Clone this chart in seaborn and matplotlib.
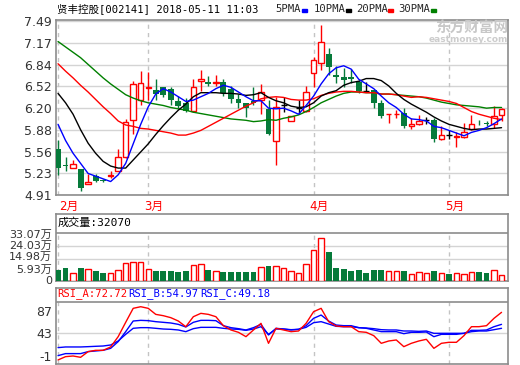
import numpy as np
import matplotlib
matplotlib.use("Agg")
import matplotlib.pyplot as plt
from matplotlib.patches import Rectangle
from matplotlib import transforms
import seaborn as sns

# ---- data: 60 sessions, 2018-02-06 .. 2018-05-11 ----
opens = [5.59, 5.35, 5.31, 5.30, 5.07, 5.19, 5.14, 5.19, 5.27, 5.47,
         6.02, 6.32, 6.50, 6.47, 6.51, 6.49, 6.30, 6.27, 6.16, 6.61,
         6.59, 6.57, 6.59, 6.48, 6.34, 6.28, 6.31, 6.32, 6.19, 5.71,
         6.25, 6.01, 6.21, 6.16, 6.72, 6.87, 7.01, 6.69, 6.66, 6.66,
         6.59, 6.45, 6.47, 6.27, 6.11, 6.11, 6.13, 5.93, 5.97, 6.02,
         6.03, 5.74, 5.80, 5.77, 5.77, 5.89, 6.00, 5.98, 5.96, 6.10]
highs = [5.72, 5.48, 5.43, 5.30, 5.22, 5.22, 5.15, 5.26, 5.60, 6.04,
         6.61, 6.75, 6.74, 6.64, 6.52, 6.52, 6.38, 6.35, 6.64, 6.76,
         6.68, 6.70, 6.63, 6.53, 6.41, 6.28, 6.52, 6.56, 6.32, 6.37,
         6.37, 6.09, 6.32, 6.53, 6.96, 7.44, 7.10, 6.82, 6.80, 6.78,
         6.62, 6.59, 6.47, 6.32, 6.12, 6.18, 6.20, 6.05, 6.10, 6.07,
         6.05, 5.94, 5.87, 5.85, 5.98, 6.10, 6.03, 6.01, 6.23, 6.21]
lows = [5.21, 5.26, 5.31, 4.97, 5.07, 5.11, 5.11, 5.16, 5.26, 5.46,
        5.82, 6.25, 6.32, 6.32, 6.36, 6.25, 6.20, 6.15, 6.15, 6.46,
        6.53, 6.53, 6.38, 6.28, 6.20, 6.07, 6.25, 6.12, 5.80, 5.35,
        6.15, 6.01, 6.12, 6.15, 6.52, 6.77, 6.69, 6.58, 6.52, 6.57,
        6.42, 6.45, 6.21, 6.06, 5.98, 6.05, 5.90, 5.89, 5.95, 5.97,
        5.70, 5.73, 5.74, 5.63, 5.75, 5.88, 5.95, 5.93, 5.90, 6.01]
closes = [5.31, 5.34, 5.37, 5.01, 5.11, 5.12, 5.12, 5.21, 5.47, 5.99,
          6.56, 6.58, 6.51, 6.41, 6.39, 6.32, 6.23, 6.16, 6.51, 6.63,
          6.56, 6.59, 6.43, 6.34, 6.28, 6.21, 6.28, 6.44, 5.81, 6.21,
          6.25, 6.09, 6.21, 6.44, 6.91, 7.18, 6.81, 6.66, 6.62, 6.63,
          6.45, 6.45, 6.28, 6.08, 6.12, 6.12, 5.93, 5.96, 6.01, 6.02,
          5.74, 5.80, 5.80, 5.79, 5.84, 5.96, 5.99, 5.97, 6.08, 6.19]

ma5 = [5.96, 5.72, 5.53, 5.38, 5.23, 5.19, 5.15, 5.11, 5.21, 5.38,
       5.67, 5.96, 6.22, 6.41, 6.49, 6.44, 6.37, 6.30, 6.32, 6.37,
       6.42, 6.49, 6.54, 6.51, 6.44, 6.37, 6.31, 6.31, 6.20, 6.19,
       6.20, 6.16, 6.11, 6.24, 6.38, 6.56, 6.71, 6.80, 6.83, 6.78,
       6.63, 6.56, 6.49, 6.38, 6.28, 6.21, 6.11, 6.04, 6.03, 6.01,
       5.93, 5.91, 5.87, 5.83, 5.79, 5.84, 5.87, 5.91, 5.97, 6.04]
ma10 = [6.42, 6.28, 6.11, 5.88, 5.68, 5.53, 5.41, 5.34, 5.31, 5.31,
        5.43, 5.55, 5.67, 5.81, 5.94, 6.06, 6.17, 6.26, 6.37, 6.43,
        6.43, 6.43, 6.42, 6.42, 6.41, 6.39, 6.40, 6.43, 6.36, 6.31,
        6.28, 6.23, 6.21, 6.22, 6.28, 6.38, 6.43, 6.46, 6.54, 6.58,
        6.60, 6.64, 6.64, 6.61, 6.53, 6.42, 6.33, 6.26, 6.20, 6.14,
        6.07, 6.01, 5.96, 5.93, 5.90, 5.88, 5.89, 5.89, 5.90, 5.91]
ma20 = [6.86, 6.75, 6.65, 6.54, 6.44, 6.33, 6.22, 6.12, 6.01, 5.95,
        5.93, 5.90, 5.89, 5.87, 5.85, 5.83, 5.80, 5.80, 5.83, 5.87,
        5.93, 5.99, 6.05, 6.11, 6.17, 6.23, 6.28, 6.34, 6.36, 6.37,
        6.36, 6.33, 6.32, 6.32, 6.34, 6.39, 6.42, 6.44, 6.45, 6.45,
        6.44, 6.43, 6.43, 6.41, 6.41, 6.40, 6.38, 6.36, 6.37, 6.36,
        6.34, 6.32, 6.30, 6.27, 6.21, 6.15, 6.11, 6.08, 6.05, 6.03]
ma30 = [7.19, 7.11, 7.03, 6.95, 6.85, 6.75, 6.65, 6.56, 6.48, 6.40,
        6.35, 6.31, 6.28, 6.26, 6.24, 6.21, 6.19, 6.17, 6.14, 6.12,
        6.10, 6.08, 6.06, 6.04, 6.03, 6.02, 6.00, 6.01, 6.03, 6.02,
        6.05, 6.07, 6.10, 6.15, 6.21, 6.28, 6.33, 6.38, 6.42, 6.44,
        6.44, 6.43, 6.43, 6.41, 6.41, 6.40, 6.39, 6.38, 6.37, 6.35,
        6.32, 6.29, 6.27, 6.25, 6.24, 6.23, 6.22, 6.20, 6.21, 6.21]

# volume in 万
volume = [7.66, 8.59, 5.57, 8.59, 8.12, 6.96, 5.11, 5.57, 7.66, 12.5,
          13.2, 13.2, 8.12, 6.96, 6.96, 6.96, 5.80, 6.96, 10.9, 11.6,
          7.66, 6.96, 6.27, 6.27, 5.80, 6.27, 6.27, 9.75, 10.4, 10.4,
          8.82, 6.96, 5.57, 11.6, 21.4, 29.7, 20.2, 9.05, 8.12, 6.96,
          7.66, 5.57, 7.66, 7.66, 6.96, 6.96, 6.96, 4.64, 6.03, 5.57,
          6.96, 5.57, 4.87, 5.57, 4.87, 6.03, 5.80, 5.11, 7.43, 4.18]

rsi_a = [-9.5, -3.0, -1.7, -4.3, 6.9, 9.5, 9.5, 16.1, 36.4, 64.7,
         92.3, 95.5, 92.3, 80.4, 77.8, 73.9, 67.3, 56.1, 75.8, 82.4,
         80.4, 75.8, 58.1, 49.6, 45.0, 36.4, 49.6, 62.7, 23.3, 52.9,
         49.6, 46.3, 47.6, 62.7, 85.7, 92.3, 66.0, 57.4, 56.1, 56.1,
         46.3, 45.0, 38.4, 23.3, 27.9, 29.9, 16.7, 23.3, 27.9, 31.2,
         13.4, 23.3, 25.3, 25.3, 38.4, 56.1, 56.1, 58.1, 72.6, 84.4]
rsi_b = [-1.0, 3.0, 3.0, 3.0, 6.9, 8.2, 9.5, 13.4, 26.6, 46.3,
         67.3, 68.6, 68.0, 66.0, 64.7, 63.4, 60.7, 55.5, 64.7, 68.6,
         68.6, 68.0, 58.1, 54.2, 52.2, 49.6, 54.2, 60.7, 39.7, 52.9,
         51.5, 49.6, 50.9, 58.1, 72.6, 79.1, 67.3, 59.4, 58.1, 58.1,
         54.2, 52.9, 49.6, 46.3, 46.3, 46.3, 42.3, 45.0, 45.0, 45.6,
         36.4, 41.0, 41.0, 41.0, 43.0, 48.9, 48.9, 49.6, 56.1, 60.7]
rsi_c = [14.8, 16.1, 16.1, 16.1, 16.7, 17.4, 18.0, 20.0, 27.9, 41.0,
         52.9, 54.2, 54.2, 52.9, 51.5, 50.9, 49.6, 46.3, 52.2, 54.8,
         54.8, 54.8, 52.9, 51.5, 50.9, 48.9, 51.5, 56.1, 41.0, 51.5,
         51.5, 50.2, 50.9, 54.8, 64.0, 66.0, 61.4, 56.8, 56.1, 56.1,
         54.2, 53.5, 52.2, 50.2, 49.6, 49.6, 47.6, 47.6, 46.9, 47.6,
         43.0, 43.0, 43.0, 43.0, 43.0, 46.3, 47.6, 47.6, 50.2, 52.9]

price_labels = ["4.91", "5.23", "5.56", "5.88", "6.20", "6.52", "6.84", "7.17", "7.49"]
vol_ticks = [0, 5.93, 14.98, 24.03, 33.07]
vol_labels = ["0", "5.93万", "14.98万", "24.03万", "33.07万"]
rsi_ticks = [-1, 43, 87]
month_start = [0, 12, 34, 52]
month_names = ["2月", "3月", "4月", "5月"]

RED = "#ff0000"
GREEN = "#067a3a"
GRID = "#d4d4d4"
EDGE = "#8c8c8c"

sns.set_theme(style="white")
plt.rcParams["font.family"] = ["DejaVu Sans", "Noto Sans CJK SC"]
MONO = ["DejaVu Sans Mono", "Noto Sans CJK SC"]

W, H = 520, 365
fig = plt.figure(figsize=(W / 100, H / 100), dpi=100)


def panel(top, bottom):
    return fig.add_axes([56 / W, 1 - bottom / H, (508.3 - 56) / W, (bottom - top) / H])


def fx(x):
    return x / W


def fy(y):
    return 1 - y / H


o = np.array(opens)
h = np.array(highs)
l = np.array(lows)
c = np.array(closes)
x = np.arange(len(c))
up = c > o
down = c < o
flat = c == o
prev = np.r_[c[0], c[:-1]]
vol_up = up | (flat & (c > prev))

ax = panel(20, 195)
axv = panel(214.3, 280.7)
axr = panel(287.7, 364)

for a in (ax, axv, axr):
    a.set_xlim(-0.27, 59.9)
    a.set_xticks([])
    for s in a.spines.values():
        s.set_color(EDGE)
        s.set_linewidth(1.2)
    a.tick_params(axis="y", length=0, pad=3, labelsize=9, colors="#333333")

# ---- price panel ----
ax.set_ylim(4.91, 7.51)
ptick = np.linspace(4.91, 7.49, len(price_labels))
ax.set_yticks(ptick)
ax.set_yticklabels(price_labels)
for v in ptick:
    ax.axhline(v, color=GRID, lw=1, zorder=0)
for m in month_start:
    ax.axvline(m, color="#c4c4c4", lw=1, ls=(0, (3, 3)), zorder=0)

wick_col = np.where(up, RED, np.where(down, GREEN, "black"))
ax.vlines(x, l, h, colors=wick_col, lw=1, zorder=2)
ax.bar(x[up], (c - o)[up], bottom=o[up], width=0.72, facecolor="white",
       edgecolor=RED, lw=1, zorder=3)
ax.bar(x[down], (o - c)[down], bottom=c[down], width=0.78, color=GREEN,
       lw=0, zorder=3)
ax.hlines(c[flat], x[flat] - 0.4, x[flat] + 0.4, colors="black", lw=1, zorder=3)

for vals, col in ((ma30, "#008000"), (ma20, RED), (ma10, "black"), (ma5, "#0000ff")):
    sns.lineplot(x=x, y=vals, ax=ax, color=col, lw=1, legend=False, zorder=4)
ax.set_ylabel("")

blend = transforms.blended_transform_factory(ax.transData, ax.transAxes)
for m, name in zip(month_start, month_names):
    ax.text(max(m - 0.5, 0.1), -0.063, name, color=RED, fontsize=8.5,
            ha="left", va="center", transform=blend)

# ---- volume panel ----
axv.set_ylim(0, 46)
axv.set_yticks(vol_ticks)
axv.set_yticklabels(vol_labels)
axv.tick_params(axis="y", labelsize=8)
# nudge the stacked labels apart a little, as the reference does
for lab, dy in zip(axv.get_yticklabels(), [0.7, 3.1, 2.7, 1.0, -1.0]):
    lab.set_transform(lab.get_transform()
                      + transforms.ScaledTranslation(0, dy / 100, fig.dpi_scale_trans))
for v in vol_ticks[2:4]:
    axv.axhline(v, color=GRID, lw=1, zorder=0)
axv.axhline(vol_ticks[-1], color=EDGE, lw=1.2, zorder=1)
axv.vlines(month_start, 0, vol_ticks[-1], color="#c4c4c4", lw=1,
           linestyles=(0, (3, 3)), zorder=0)
vol = np.array(volume)
axv.bar(x[vol_up], vol[vol_up], width=0.72, facecolor="white",
        edgecolor=RED, lw=1, zorder=3)
axv.bar(x[~vol_up], vol[~vol_up], width=0.78, color=GREEN, lw=0, zorder=3)

# ---- RSI panel ----
axr.set_ylim(-17.5, 133)
axr.set_yticks(rsi_ticks)
axr.set_yticklabels([str(t) for t in rsi_ticks])
axr.axhline(43, color=GRID, lw=1, zorder=0)
axr.axhline(105.3, color=EDGE, lw=1.2, zorder=1)
axr.vlines(month_start, -17.5, 105.3, color="#c4c4c4", lw=1,
           linestyles=(0, (3, 3)), zorder=0)
for vals, col in ((rsi_c, "#0000ff"), (rsi_b, "#0000ff"), (rsi_a, RED)):
    sns.lineplot(x=x, y=vals, ax=axr, color=col, lw=1, legend=False, zorder=3)
axr.set_ylabel("")

# ---- header texts ----
fig.text(fx(57), fy(9), "贤丰控股[002141] 2018-05-11 11:03", fontsize=7.6,
         family=MONO, va="center", ha="left", color="black")
for label, lx, bx, col in (("5PMA", 275, 301.7, "#0000ff"),
                           ("10PMA", 313.3, 345.7, "black"),
                           ("20PMA", 356, 388.3, RED),
                           ("30PMA", 398.3, 430.7, "#008000")):
    fig.text(fx(lx), fy(9), label, fontsize=7.6, family=MONO, va="center", ha="left")
    fig.patches.append(Rectangle((fx(bx), fy(12)), 5 / W, 3 / H, color=col,
                                 transform=fig.transFigure, figure=fig))

fig.text(fx(508), fy(28), "东方财富网", fontsize=10.5, fontweight="bold",
         color="#c8c8c8", ha="right", va="center")
fig.text(fx(508), fy(40), "eastmoney.com", fontsize=6.5, fontweight="bold",
         color="#cccccc", ha="right", va="center")

fig.text(fx(58), fy(223), "成交量:32070", fontsize=8, family=MONO,
         va="center", ha="left", color="black")
for label, lx, col in (("RSI_A:72.72", 57, RED), ("RSI_B:54.97", 128.3, "#0000ff"),
                       ("RSI_C:49.18", 200.7, "#0000ff")):
    fig.text(fx(lx), fy(294), label, fontsize=7.6, family=MONO, va="center",
             ha="left", color=col)

fig.savefig("out.png", dpi=100)
